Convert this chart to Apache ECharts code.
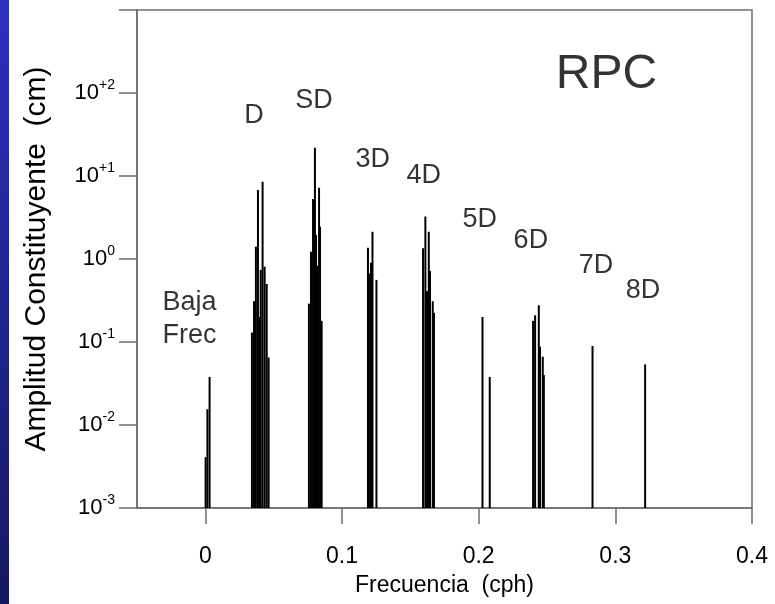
<!DOCTYPE html>
<html>
<head>
<meta charset="utf-8">
<script src="https://cdn.jsdelivr.net/npm/echarts@6.0.0/dist/echarts.min.js"></script>
<style>
  html, body { margin: 0; padding: 0; background: #fff; }
  #chart { width: 775px; height: 604px; }
</style>
</head>
<body>
<div id="chart"></div>
<script>
// ---- data (frequency in cph, amplitude in cm) ----
const lfFreq = [0.0002, 0.0015, 0.0031];
const lfAmp  = [0.0041, 0.0155, 0.038];
const dFreq  = [0.0341, 0.0356, 0.0370, 0.0385, 0.0398, 0.0405, 0.0419, 0.0434, 0.0449, 0.0463];
const dAmp   = [0.13, 0.31, 1.4, 6.8, 0.2, 0.74, 8.5, 0.81, 0.5, 0.065];
const sdFreq = [0.0758, 0.0773, 0.0788, 0.0795, 0.0802, 0.0810, 0.0817, 0.0832, 0.0839, 0.0851];
const sdAmp  = [0.29, 1.22, 5.3, 1.37, 21.9, 1.95, 0.83, 7.2, 2.45, 0.18];
const d3Freq = [0.1190, 0.1205, 0.1212, 0.1223, 0.1252];
const d3Amp  = [1.37, 0.67, 0.9, 2.13, 0.56];
const d4Freq = [0.1593, 0.1610, 0.1622, 0.1635, 0.1644, 0.1664, 0.1673];
const d4Amp  = [1.35, 3.24, 0.41, 2.13, 0.72, 0.31, 0.225];
const d5Freq = [0.2028, 0.2081];
const d5Amp  = [0.2, 0.038];
const d6Freq = [0.2398, 0.2413, 0.2440, 0.2449, 0.2469, 0.2477];
const d6Amp  = [0.18, 0.21, 0.277, 0.088, 0.0665, 0.04];
const d7Freq = [0.2833];
const d7Amp  = [0.0895];
const d8Freq = [0.3218];
const d8Amp  = [0.0537];

const xTicks = [0, 0.1, 0.2, 0.3, 0.4];
const xLabelTicks = [0, 0.1, 0.2, 0.3, 0.4];
const yTicks = [0.001, 0.01, 0.1, 1, 10, 100, 1000];
const yLabelTicks = [0.001, 0.01, 0.1, 1, 10, 100];

const bandNames = ['Baja\nFrec', 'D', 'SD', '3D', '4D', '5D', '6D', '7D', '8D'];
const stationName = 'RPC';

// label anchors in data coordinates (freq, amplitude)
const bandLabelX = [-0.0115, 0.0356, 0.0795, 0.1225, 0.1598, 0.2008, 0.2382, 0.2858, 0.3202];
const bandLabelY = [0.19, 54, 82, 15.6, 10, 3.0, 1.65, 0.84, 0.42];
const stationLabelPos = [0.2935, 165];

// ---- build ----
const bands = [[lfFreq, lfAmp], [dFreq, dAmp], [sdFreq, sdAmp], [d3Freq, d3Amp], [d4Freq, d4Amp],
               [d5Freq, d5Amp], [d6Freq, d6Amp], [d7Freq, d7Amp], [d8Freq, d8Amp]];
const stems = [];
bands.forEach(([f, a]) => f.forEach((v, i) => stems.push([v, a[i]])));

const FONT = "'Liberation Sans', Arial, sans-serif";
const AX = '#6e6e6e';

function supLabel(v) {
  const e = Math.round(Math.log10(v));
  const s = e > 0 ? '+' + e : String(e);
  return '{b|10}{s|' + s + '}';
}

const labelData = bandNames.map((n, i) => ({ name: n, value: [bandLabelX[i], bandLabelY[i]] }));
labelData.push({ name: stationName, value: stationLabelPos, label: { fontSize: 48 } });

const chart = echarts.init(document.getElementById('chart'), null, { renderer: 'canvas' });
chart.setOption({
  animation: false,
  backgroundColor: '#ffffff',
  textStyle: { fontFamily: FONT },
  graphic: [{
    type: 'rect', left: 0, top: 0, z: -1,
    shape: { width: 9, height: 604 },
    style: {
      fill: new echarts.graphic.LinearGradient(0, 0, 0, 1, [
        { offset: 0, color: '#2c30c0' }, { offset: 1, color: '#15185e' }
      ])
    }
  }],
  grid: { left: 137, right: 23, top: 10, bottom: 96, show: true, borderColor: AX, borderWidth: 1.5, backgroundColor: 'transparent' },
  xAxis: {
    type: 'value', min: -0.05, max: 0.4,
    name: 'Frecuencia  (cph)', nameLocation: 'middle', nameGap: 66,
    nameTextStyle: { fontSize: 23, color: '#000', fontFamily: FONT },
    axisLine: { show: true, onZero: false, lineStyle: { color: AX, width: 1.5 } },
    axisTick: { show: true, customValues: xTicks, length: 16, inside: false, lineStyle: { color: AX, width: 1.5 } },
    axisLabel: { customValues: xLabelTicks, margin: 37, fontSize: 23, color: '#000', fontFamily: FONT,
                 formatter: v => String(+v.toFixed(2)) },
    splitLine: { show: false }
  },
  yAxis: {
    type: 'log', logBase: 10, min: 0.001, max: 1000,
    name: 'Amplitud Constituyente  (cm)', nameLocation: 'middle', nameGap: 85,
    nameTextStyle: { fontSize: 30, color: '#000', fontFamily: FONT },
    axisLine: { show: true, onZero: false, lineStyle: { color: AX, width: 1.5 } },
    axisTick: { show: true, customValues: yTicks, length: 18, inside: false, lineStyle: { color: AX, width: 1.5 } },
    axisLabel: {
      customValues: yLabelTicks, margin: 22, formatter: supLabel,
      rich: {
        b: { fontSize: 22, color: '#000', fontFamily: FONT, lineHeight: 30 },
        s: { fontSize: 14, color: '#000', fontFamily: FONT, lineHeight: 14, verticalAlign: 'top' }
      }
    },
    splitLine: { show: false }
  },
  series: [
    {
      type: 'custom', data: stems, clip: true,
      renderItem: function (params, api) {
        const x = api.value(0), v = api.value(1);
        const p0 = api.coord([x, 0.001]);
        const p1 = api.coord([x, v]);
        return { type: 'line', shape: { x1: p0[0], y1: p0[1], x2: p1[0], y2: p1[1] },
                 style: { stroke: '#000', lineWidth: 2 } };
      }
    },
    {
      type: 'scatter', data: labelData, symbolSize: 0, silent: true,
      label: { show: true, position: 'inside', formatter: '{b}', fontSize: 27, lineHeight: 33,
               color: '#000', fontFamily: FONT }
    }
  ]
});
</script>
</body>
</html>
